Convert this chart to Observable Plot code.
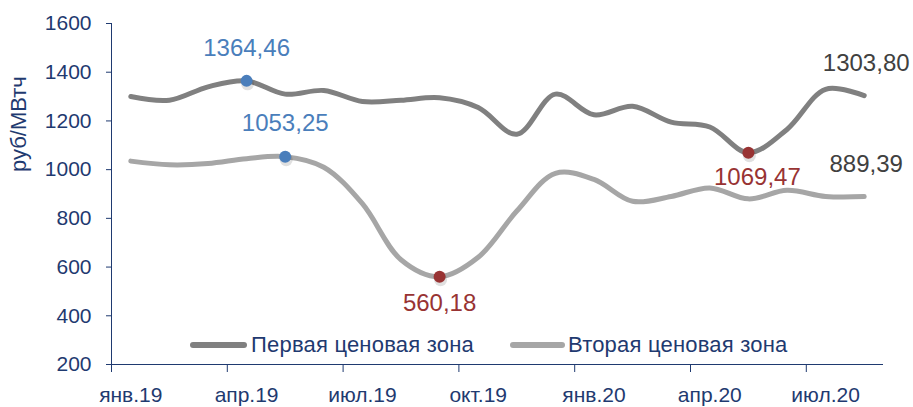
<!DOCTYPE html>
<html><head><meta charset="utf-8">
<script src="https://cdn.jsdelivr.net/npm/d3@7"></script>
<script src="https://cdn.jsdelivr.net/npm/@observablehq/plot@0.6"></script>
<style>
body{margin:0;background:#fff;font-family:"Liberation Sans",Arial,sans-serif;}
#wrap{position:relative;width:913px;height:407px;overflow:hidden;}
.sw{position:absolute;height:6px;border-radius:3px;}
.lt{position:absolute;font-size:22px;color:#1f3a70;letter-spacing:0.2px;line-height:22px;white-space:nowrap;}
</style></head><body><div id="wrap"></div>
<script>
const months = ["янв.19","фев.19","мар.19","апр.19","май.19","июн.19","июл.19","авг.19","сен.19","окт.19","ноя.19","дек.19","янв.20","фев.20","мар.20","апр.20","май.20","июн.20","июл.20","авг.20"];
const zone1 = [1300,1285,1340,1364.46,1310,1325,1280,1285,1295,1255,1145,1310,1225,1260,1195,1175,1069.47,1165,1330,1303.80];
const zone2 = [1035,1020,1025,1045,1053.25,1010,860,630,560.18,640,830,985,960,870,890,925,880,915,890,889.39];
const seriesNames = ["Первая ценовая зона","Вторая ценовая зона"];
const tickMonths = ["янв.19","апр.19","июл.19","окт.19","янв.20","апр.20","июл.20"];
const yTicks = [200,400,600,800,1000,1200,1400,1600];
const yTitle = "руб/МВтч";

const navy = "#1f3a70", c1 = "#808080", c2 = "#a6a6a6", blue = "#4a7ebb", red = "#983333", dark = "#404040";
const fmt = v => v.toFixed(2).replace(".", ",");

const rows = months.map((m, i) => ({i, x: i + 0.5, v1: zone1[i], v2: zone2[i]}));
const argmax = a => a.indexOf(d3.max(a)), argmin = a => a.indexOf(d3.min(a));
const hiMax = [rows[argmax(zone1)]].map(r => ({x: r.x, v: r.v1}))
  .concat([rows[argmax(zone2)]].map(r => ({x: r.x, v: r.v2})));
const lo1 = [{x: rows[argmin(zone1)].x, v: rows[argmin(zone1)].v1}];
const lo2 = [{x: rows[argmin(zone2)].x, v: rows[argmin(zone2)].v2}];
const last = rows.length - 1;
const lastPts = [{x: rows[last].x, v: rows[last].v1}, {x: rows[last].x, v: rows[last].v2}];
const bounds = tickMonths.map(m => months.indexOf(m));

const chart = Plot.plot({
  width: 913, height: 407,
  marginLeft: 111, marginRight: 30, marginTop: 23, marginBottom: 43,
  style: {fontFamily: '"Liberation Sans", Arial, sans-serif', fontSize: "21px", color: navy, background: "#fff"},
  x: {domain: [0, months.length], axis: null},
  y: {domain: [200, 1600], axis: null},
  marks: [
    Plot.axisY({ticks: yTicks, tickSize: 5, tickPadding: 15, tickFormat: d => String(d), label: null, stroke: navy, fontSize: 21}),
    Plot.axisX({ticks: bounds, tickSize: 8, tickFormat: () => "", label: null, stroke: navy}),
    Plot.axisX({ticks: bounds.map(b => b + 0.5), tickSize: 0, tickPadding: 23, tickFormat: d => months[Math.floor(d)], label: null, fontSize: 21, letterSpacing: -0.2}),
    Plot.ruleX([0], {y1: 200, y2: 1600, stroke: navy}),
    Plot.ruleY([200], {x1: 0, x2: months.length, stroke: navy}),
    Plot.text([yTitle], {frameAnchor: "left", rotate: -90, dx: -93, dy: -22, fill: navy, fontSize: 22}),
    Plot.line(rows, {x: "x", y: "v2", stroke: c2, strokeWidth: 5, curve: "catmull-rom", strokeLinecap: "round"}),
    Plot.line(rows, {x: "x", y: "v1", stroke: c1, strokeWidth: 5, curve: "catmull-rom", strokeLinecap: "round"}),
    Plot.dot(hiMax.concat(lo1, lo2), {x: "x", y: "v", r: 6.5, fill: "#000", fillOpacity: 0.12, dx: 1, dy: 3}),
    Plot.dot(hiMax, {x: "x", y: "v", r: 6, fill: blue}),
    Plot.dot(lo1.concat(lo2), {x: "x", y: "v", r: 6, fill: red}),
    Plot.text(hiMax, {x: "x", y: "v", text: d => fmt(d.v), dy: -33, fill: blue, fontSize: 24}),
    Plot.text(lo2, {x: "x", y: "v", text: d => fmt(d.v), dy: 27, fill: red, fontSize: 24}),
    Plot.text(lo1, {x: "x", y: "v", text: d => fmt(d.v), dy: 25, dx: 9, fill: red, fontSize: 24}),
    Plot.text(lastPts, {x: "x", y: "v", text: d => fmt(d.v), dy: -32, dx: 2, fill: dark, fontSize: 24})
  ]
});
const wrap = document.getElementById("wrap");
wrap.appendChild(chart);
const legend = [
  {name: seriesNames[0], color: c1, sx: 190, sw: 57, tx: 251},
  {name: seriesNames[1], color: c2, sx: 510, sw: 55, tx: 568}
];
legend.forEach(l => {
  const s = document.createElement("div"); s.className = "sw";
  s.style.left = l.sx + "px"; s.style.top = "342px"; s.style.width = l.sw + "px"; s.style.background = l.color;
  const t = document.createElement("div"); t.className = "lt";
  t.style.left = l.tx + "px"; t.style.top = "334px"; t.textContent = l.name;
  wrap.appendChild(s); wrap.appendChild(t);
});
</script></body></html>
